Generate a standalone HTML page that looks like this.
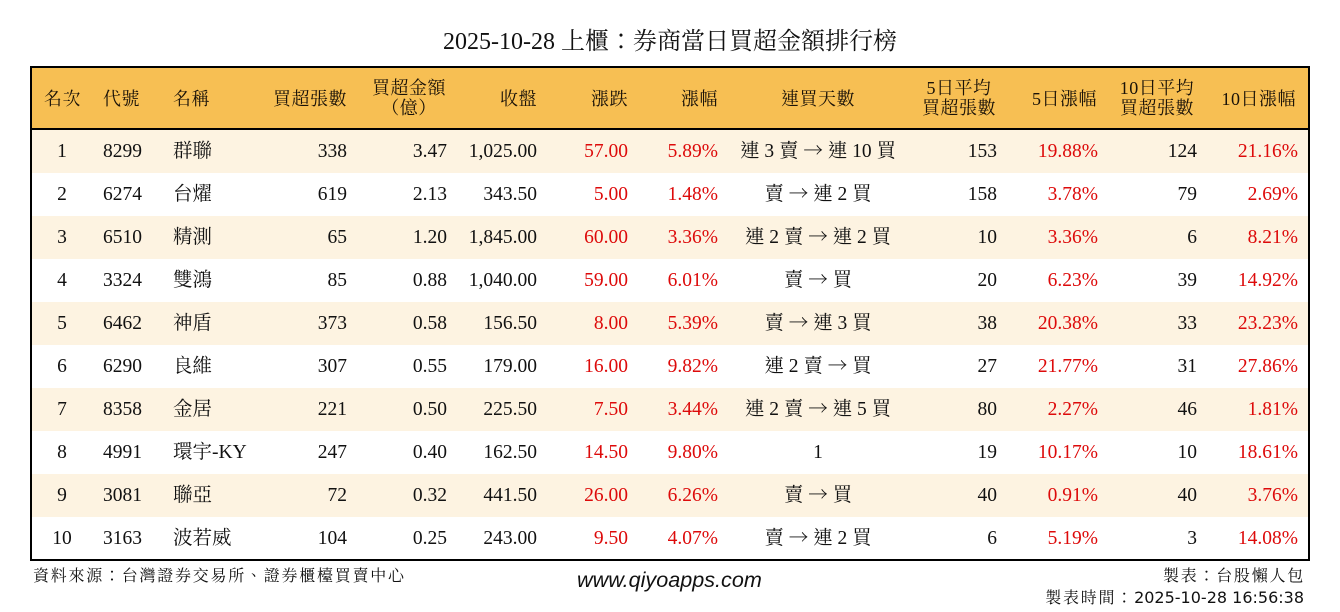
<!DOCTYPE html>
<html>
<head>
<meta charset="utf-8">
<style>
html,body{margin:0;padding:0;}
body{width:1340px;height:612px;position:relative;background:#fff;overflow:hidden;
  font-family:"Liberation Serif","Noto Serif CJK TC","Noto Serif CJK SC","Noto Serif CJK JP",serif;color:#111;}
#title{position:absolute;left:0;width:1340px;top:27px;line-height:30px;text-align:center;font-size:24px;color:#111;}
#box{position:absolute;left:30px;top:66px;width:1280px;height:495px;border:2px solid #000;box-sizing:border-box;}
#hdr{position:absolute;left:32px;top:68px;width:1276px;height:60px;background:#F7BF53;}
#hline{position:absolute;left:32px;top:128px;width:1276px;height:2px;background:#000;}
.h{position:absolute;white-space:nowrap;font-size:18px;letter-spacing:0.5px;color:#1a1208;line-height:20px;}
.bg{position:absolute;left:32px;width:1276px;height:43px;background:#FDF3E1;}
.row{position:absolute;left:0;width:1340px;height:43px;line-height:43px;font-size:19.5px;}
.row div{position:absolute;top:0;white-space:nowrap;}
.ar{font-family:"Noto Serif CJK TC","Noto Serif CJK SC","Noto Sans CJK SC",serif;line-height:0;}
.c1{left:22px;width:80px;text-align:center;}
.c2{left:103px;}
.c3{left:173px;}
.c4{right:993px;text-align:right;}
.c5{right:893px;text-align:right;}
.c6{right:803px;text-align:right;}
.c7{right:712px;text-align:right;color:#dd0a0a;}
.c8{right:622px;text-align:right;color:#dd0a0a;}
.c9{left:718px;width:200px;text-align:center;}
.c10{right:343px;text-align:right;}
.c11{right:242px;text-align:right;color:#dd0a0a;}
.c12{right:143px;text-align:right;}
.c13{right:42px;text-align:right;color:#dd0a0a;}
.ft{position:absolute;white-space:nowrap;font-size:16px;letter-spacing:1.75px;line-height:20px;color:#111;}
.ft .n{font-family:"DejaVu Sans",sans-serif;letter-spacing:0;}
#www{position:absolute;left:577px;top:567px;line-height:26px;font-size:21.6px;font-style:italic;font-family:"Liberation Sans",sans-serif;color:#111;}
</style>
</head>
<body>
<div id="title">2025-10-28 上櫃：券商當日買超金額排行榜</div>

<div id="box"></div>
<div id="hdr"></div>
<div id="hline"></div>

<div class="h" style="left:44px;top:89px;">名次</div>
<div class="h" style="left:103px;top:89px;">代號</div>
<div class="h" style="left:173px;top:89px;">名稱</div>
<div class="h" style="right:993px;top:89px;text-align:right;">買超張數</div>
<div class="h" style="left:349px;width:120px;top:78px;text-align:center;">買超金額<br>（億）</div>
<div class="h" style="right:803px;top:89px;">收盤</div>
<div class="h" style="right:712px;top:89px;">漲跌</div>
<div class="h" style="right:622px;top:89px;">漲幅</div>
<div class="h" style="left:718px;width:200px;top:89px;text-align:center;">連買天數</div>
<div class="h" style="left:899px;width:120px;top:78px;text-align:center;">5日平均<br>買超張數</div>
<div class="h" style="right:243px;top:89px;">5日漲幅</div>
<div class="h" style="left:1097px;width:120px;top:78px;text-align:center;">10日平均<br>買超張數</div>
<div class="h" style="right:44px;top:89px;">10日漲幅</div>

<div class="bg" style="top:130px;"></div>
<div class="bg" style="top:216px;"></div>
<div class="bg" style="top:302px;"></div>
<div class="bg" style="top:388px;"></div>
<div class="bg" style="top:474px;"></div>

<div class="row" style="top:130px;"><div class="c1">1</div><div class="c2">8299</div><div class="c3">群聯</div><div class="c4">338</div><div class="c5">3.47</div><div class="c6">1,025.00</div><div class="c7">57.00</div><div class="c8">5.89%</div><div class="c9">連 3 賣 <span class="ar">→</span> 連 10 買</div><div class="c10">153</div><div class="c11">19.88%</div><div class="c12">124</div><div class="c13">21.16%</div></div>
<div class="row" style="top:173px;"><div class="c1">2</div><div class="c2">6274</div><div class="c3">台燿</div><div class="c4">619</div><div class="c5">2.13</div><div class="c6">343.50</div><div class="c7">5.00</div><div class="c8">1.48%</div><div class="c9">賣 <span class="ar">→</span> 連 2 買</div><div class="c10">158</div><div class="c11">3.78%</div><div class="c12">79</div><div class="c13">2.69%</div></div>
<div class="row" style="top:216px;"><div class="c1">3</div><div class="c2">6510</div><div class="c3">精測</div><div class="c4">65</div><div class="c5">1.20</div><div class="c6">1,845.00</div><div class="c7">60.00</div><div class="c8">3.36%</div><div class="c9">連 2 賣 <span class="ar">→</span> 連 2 買</div><div class="c10">10</div><div class="c11">3.36%</div><div class="c12">6</div><div class="c13">8.21%</div></div>
<div class="row" style="top:259px;"><div class="c1">4</div><div class="c2">3324</div><div class="c3">雙鴻</div><div class="c4">85</div><div class="c5">0.88</div><div class="c6">1,040.00</div><div class="c7">59.00</div><div class="c8">6.01%</div><div class="c9">賣 <span class="ar">→</span> 買</div><div class="c10">20</div><div class="c11">6.23%</div><div class="c12">39</div><div class="c13">14.92%</div></div>
<div class="row" style="top:302px;"><div class="c1">5</div><div class="c2">6462</div><div class="c3">神盾</div><div class="c4">373</div><div class="c5">0.58</div><div class="c6">156.50</div><div class="c7">8.00</div><div class="c8">5.39%</div><div class="c9">賣 <span class="ar">→</span> 連 3 買</div><div class="c10">38</div><div class="c11">20.38%</div><div class="c12">33</div><div class="c13">23.23%</div></div>
<div class="row" style="top:345px;"><div class="c1">6</div><div class="c2">6290</div><div class="c3">良維</div><div class="c4">307</div><div class="c5">0.55</div><div class="c6">179.00</div><div class="c7">16.00</div><div class="c8">9.82%</div><div class="c9">連 2 賣 <span class="ar">→</span> 買</div><div class="c10">27</div><div class="c11">21.77%</div><div class="c12">31</div><div class="c13">27.86%</div></div>
<div class="row" style="top:388px;"><div class="c1">7</div><div class="c2">8358</div><div class="c3">金居</div><div class="c4">221</div><div class="c5">0.50</div><div class="c6">225.50</div><div class="c7">7.50</div><div class="c8">3.44%</div><div class="c9">連 2 賣 <span class="ar">→</span> 連 5 買</div><div class="c10">80</div><div class="c11">2.27%</div><div class="c12">46</div><div class="c13">1.81%</div></div>
<div class="row" style="top:431px;"><div class="c1">8</div><div class="c2">4991</div><div class="c3">環宇-KY</div><div class="c4">247</div><div class="c5">0.40</div><div class="c6">162.50</div><div class="c7">14.50</div><div class="c8">9.80%</div><div class="c9">1</div><div class="c10">19</div><div class="c11">10.17%</div><div class="c12">10</div><div class="c13">18.61%</div></div>
<div class="row" style="top:474px;"><div class="c1">9</div><div class="c2">3081</div><div class="c3">聯亞</div><div class="c4">72</div><div class="c5">0.32</div><div class="c6">441.50</div><div class="c7">26.00</div><div class="c8">6.26%</div><div class="c9">賣 <span class="ar">→</span> 買</div><div class="c10">40</div><div class="c11">0.91%</div><div class="c12">40</div><div class="c13">3.76%</div></div>
<div class="row" style="top:517px;"><div class="c1">10</div><div class="c2">3163</div><div class="c3">波若威</div><div class="c4">104</div><div class="c5">0.25</div><div class="c6">243.00</div><div class="c7">9.50</div><div class="c8">4.07%</div><div class="c9">賣 <span class="ar">→</span> 連 2 買</div><div class="c10">6</div><div class="c11">5.19%</div><div class="c12">3</div><div class="c13">14.08%</div></div>

<div class="ft" style="left:33px;top:567px;">資料來源：台灣證券交易所、證券櫃檯買賣中心</div>
<div id="www">www.qiyoapps.com</div>
<div class="ft" style="right:35px;top:567px;text-align:right;">製表：台股懶人包</div>
<div class="ft" style="right:36px;top:588px;text-align:right;">製表時間：<span class="n">2025-10-28 16:56:38</span></div>
</body>
</html>
